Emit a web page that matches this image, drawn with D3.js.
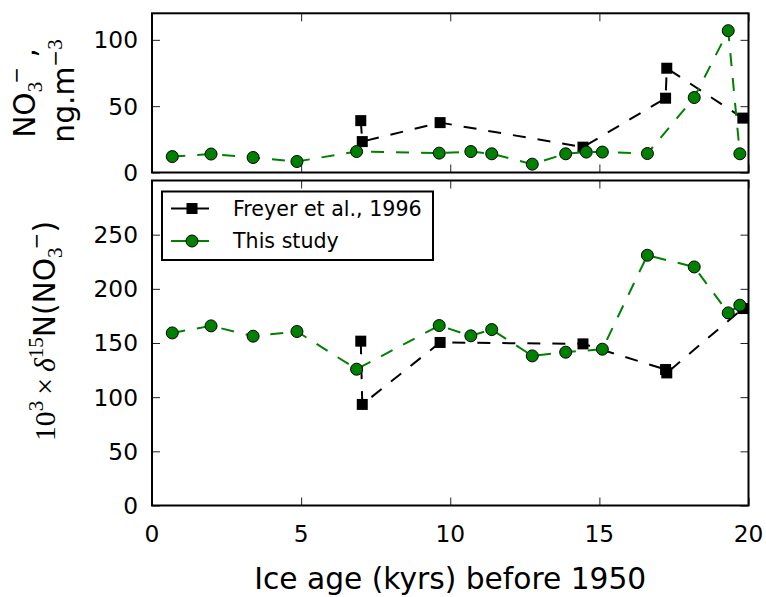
<!DOCTYPE html>
<html>
<head>
<meta charset="utf-8">
<script src="https://cdn.jsdelivr.net/npm/d3@7"></script>
<style>
  body { margin: 0; background: #fff; }
  svg { display: block; }
  text { font-family: "DejaVu Sans", sans-serif; }
</style>
</head>
<body>
<div id="chart"></div>
<script>
// ---- data ----
// this study (green circles)
const studyAge  = [0.68, 1.98, 3.39, 4.86, 6.86, 9.63, 10.69, 11.39, 12.75, 13.87, 14.56, 15.10, 16.61, 18.18, 19.32, 19.71];
const studyNO3  = [12.0, 13.9, 11.3, 8.3, 15.8, 14.6, 15.8, 14.1, 6.3, 14.1, 15.4, 15.4, 14.3, 56.5, 106.9, 14.1];
const studyD15N = [159.3, 165.8, 156.3, 160.6, 125.8, 166.1, 156.6, 162.4, 138.1, 141.5, null, 144.3, 231, 220.2, 177.8, 184.9];

// Freyer et al., 1996 (black squares)
const freyerAge  = [7.0, 7.05, 9.66, 14.45, 17.22, 17.26, 19.81];
const freyerNO3  = [39.1, 23.3, 37.6, 19.1, 56.0, 78.6, 41.0];
const freyerD15N = [151.7, 93.3, 150.5, 149.2, 125.5, 122.4, 181.8];

const xTicks = [0, 5, 10, 15, 20];
const topTicks = [0, 50, 100];
const bottomTicks = [0, 50, 100, 150, 200, 250];
const legendLabels = ["Freyer et al., 1996", "This study"];

const green = "#008000";
const serif = "Liberation Serif";

// ---- layout ----
let width = 766, height = 597;
let plotLeft = 152, plotRight = 748.5;
let topPanel = {top: 13.3, bottom: 172.5};
let botPanel = {top: 180.5, bottom: 505.5};

const svg = d3.select("#chart")
              .append("svg")
                .attr("width", width)
                .attr("height", height);

const x = d3.scaleLinear().domain([0, 20]).range([plotLeft, plotRight]);
const yTop = d3.scaleLinear().domain([0, 120]).range([topPanel.bottom, topPanel.top]);
const yBot = d3.scaleLinear().domain([0, 300]).range([botPanel.bottom, botPanel.top]);

function zip(xs, ys) {
	return xs.map(function(d, i) { return {x: d, y: ys[i]}; });
}

// draw one panel: ticks inward on all four sides, frame, series
function drawPanel(y, panel, yTickVals, showXLabels, seriesList) {
	const g = svg.append("g");
	const tickLen = 8;

	// left + right y ticks
	g.append("g")
		.attr("transform", "translate(" + plotLeft + ",0)")
		.call(d3.axisRight(y).tickValues(yTickVals).tickSize(tickLen).tickFormat(""))
		.call(function(a) { a.select(".domain").remove(); });
	g.append("g")
		.attr("transform", "translate(" + plotRight + ",0)")
		.call(d3.axisLeft(y).tickValues(yTickVals).tickSize(tickLen).tickFormat(""))
		.call(function(a) { a.select(".domain").remove(); });

	// top + bottom x ticks
	g.append("g")
		.attr("transform", "translate(0," + panel.bottom + ")")
		.call(d3.axisTop(x).tickValues(xTicks).tickSize(tickLen).tickFormat(""))
		.call(function(a) { a.select(".domain").remove(); });
	g.append("g")
		.attr("transform", "translate(0," + panel.top + ")")
		.call(d3.axisBottom(x).tickValues(xTicks).tickSize(tickLen).tickFormat(""))
		.call(function(a) { a.select(".domain").remove(); });

	g.selectAll(".tick line").attr("stroke", "#222").attr("stroke-width", 1);

	// y tick labels
	g.selectAll(".ylab")
		.data(yTickVals)
		.enter()
		.append("text")
			.attr("x", plotLeft - 14)
			.attr("y", function(d) { return y(d); })
			.attr("dy", "0.36em")
			.attr("text-anchor", "end")
			.style("font-size", "23.3px")
			.text(function(d) { return d; });

	if (showXLabels) {
		g.selectAll(".xlab")
			.data(xTicks)
			.enter()
			.append("text")
				.attr("x", function(d) { return x(d); })
				.attr("y", panel.bottom + 36.5)
				.attr("text-anchor", "middle")
				.style("font-size", "23.3px")
				.text(function(d) { return d; });
	}

	// series
	seriesList.forEach(function(s) {
		const pts = zip(s.xs, s.ys).filter(function(d) { return d.y != null; });
		const line = d3.line()
						.x(function(d) { return x(d.x); })
						.y(function(d) { return y(d.y); });
		g.append("path")
			.datum(pts)
			.attr("fill", "none")
			.attr("stroke", s.color)
			.attr("stroke-width", 2)
			.attr("stroke-dasharray", "13,12")
			.attr("d", line);

		if (s.marker == "square") {
			g.selectAll(null)
				.data(pts)
				.enter()
				.append("rect")
					.attr("x", function(d) { return x(d.x) - 5.5; })
					.attr("y", function(d) { return y(d.y) - 5.5; })
					.attr("width", 11)
					.attr("height", 11)
					.attr("fill", "#000");
		} else {
			g.selectAll(null)
				.data(pts)
				.enter()
				.append("circle")
					.attr("cx", function(d) { return x(d.x); })
					.attr("cy", function(d) { return y(d.y); })
					.attr("r", 6)
					.attr("fill", green)
					.attr("stroke", "#000")
					.attr("stroke-width", 1);
		}
	});

	// frame
	g.append("rect")
		.attr("x", plotLeft)
		.attr("y", panel.top)
		.attr("width", plotRight - plotLeft)
		.attr("height", panel.bottom - panel.top)
		.attr("fill", "none")
		.attr("stroke", "#000")
		.attr("stroke-width", 2);

	return g;
}

drawPanel(yTop, topPanel, topTicks, false, [
	{xs: freyerAge, ys: freyerNO3, color: "#000", marker: "square"},
	{xs: studyAge, ys: studyNO3, color: green, marker: "circle"}
]);

drawPanel(yBot, botPanel, bottomTicks, true, [
	{xs: freyerAge, ys: freyerD15N, color: "#000", marker: "square"},
	{xs: studyAge, ys: studyD15N, color: green, marker: "circle"}
]);

// legend
const legend = svg.append("g").attr("transform", "translate(162,191.5)");
legend.append("rect")
	.attr("width", 271)
	.attr("height", 68.5)
	.attr("fill", "#fff")
	.attr("stroke", "#000")
	.attr("stroke-width", 2);

legendLabels.forEach(function(label, i) {
	const cy = 17 + i * 32.5;
	const col = i == 0 ? "#000" : green;
	legend.append("line")
		.attr("x1", 9).attr("x2", 47)
		.attr("y1", cy).attr("y2", cy)
		.attr("stroke", col)
		.attr("stroke-width", 2);
	if (i == 0) {
		legend.append("rect")
			.attr("x", 24.5).attr("y", cy - 5.5)
			.attr("width", 11).attr("height", 11)
			.attr("fill", "#000");
	} else {
		legend.append("circle")
			.attr("cx", 30).attr("cy", cy)
			.attr("r", 6)
			.attr("fill", green)
			.attr("stroke", "#000")
			.attr("stroke-width", 1);
	}
	legend.append("text")
		.attr("x", 71)
		.attr("y", cy)
		.attr("dy", "0.36em")
		.style("font-size", "20.6px")
		.text(label);
});

// x axis label (reference clips the descenders; keep them just inside)
svg.append("text")
	.attr("x", (plotLeft + plotRight) / 2)
	.attr("y", 589)
	.attr("text-anchor", "middle")
	.style("font-size", "29.7px")
	.text("Ice age (kyrs) before 1950");

// top y label, two lines
const topLab = svg.append("text")
	.attr("transform", "translate(35,93) rotate(-90)")
	.attr("text-anchor", "middle")
	.style("font-size", "29.7px");
topLab.append("tspan").text("NO");
topLab.append("tspan").attr("dy", 7).style("font-size", "21px").style("font-family", serif).text("3");
topLab.append("tspan").attr("dy", -19).attr("dx", -2).style("font-size", "20px").text("\u2212");
topLab.append("tspan").attr("dy", 12).text(" ,");

const topLab2 = svg.append("text")
	.attr("transform", "translate(74,91) rotate(-90)")
	.attr("text-anchor", "middle")
	.style("font-size", "29.7px");
topLab2.append("tspan").text("ng.m");
topLab2.append("tspan").attr("dy", -12).style("font-size", "20px").text("\u2212");
topLab2.append("tspan").style("font-size", "21px").style("font-family", serif).text("3");

// bottom y label
const botLab = svg.append("text")
	.attr("transform", "translate(55,331) rotate(-90)")
	.attr("text-anchor", "middle")
	.style("font-size", "29.7px");
botLab.append("tspan").style("font-family", serif).text("10");
botLab.append("tspan").attr("dy", -12).style("font-size", "21px").style("font-family", serif).text("3");
botLab.append("tspan").attr("dy", 12).attr("dx", 6).style("font-family", serif).text("\u00d7");
botLab.append("tspan").attr("dx", 6).style("font-family", serif).style("font-style", "italic").text("\u03b4");
botLab.append("tspan").attr("dy", -12).style("font-size", "21px").style("font-family", serif).text("15");
botLab.append("tspan").attr("dy", 12).text("N(NO");
botLab.append("tspan").attr("dy", 7).style("font-size", "21px").style("font-family", serif).text("3");
botLab.append("tspan").attr("dy", -19).attr("dx", -2).style("font-size", "20px").text("\u2212");
botLab.append("tspan").attr("dy", 12).text(")");
</script>
</body>
</html>
